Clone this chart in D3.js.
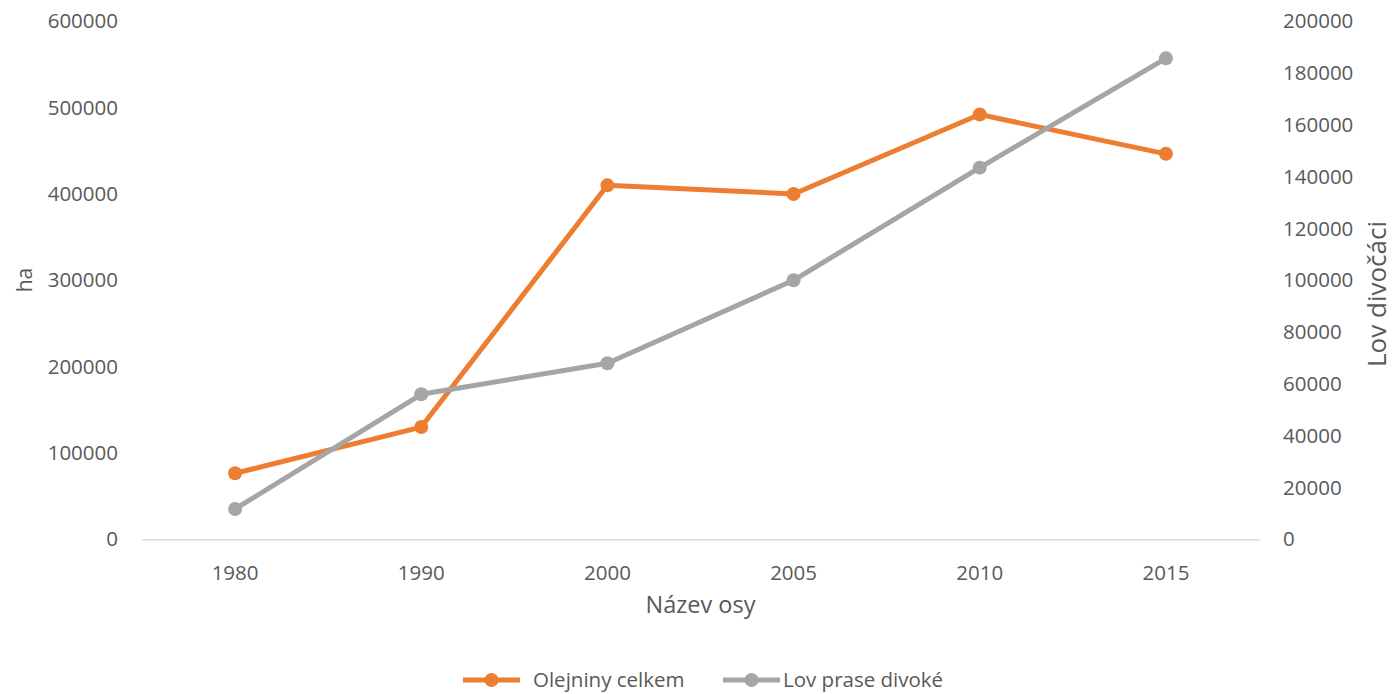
<!DOCTYPE html>
<html>
<head>
<meta charset="utf-8">
<title>Olejniny a lov prase divoké</title>
<script src="https://cdn.jsdelivr.net/npm/d3@7"></script>
<style>
  body { margin: 0; background: #fff; }
  text { font-family: "Open Sans", sans-serif; fill: #595959; }
</style>
</head>
<body>
<svg width="1395" height="694"></svg>
<script>
  var years = ['1980', '1990', '2000', '2005', '2010', '2015'];
  var olejniny = [76500, 130000, 410000, 400000, 492000, 446500];
  var lov = [11700, 56000, 68000, 100000, 143500, 185700];
  var leftTicks = [0, 100000, 200000, 300000, 400000, 500000, 600000];
  var rightTicks = [0, 20000, 40000, 60000, 80000, 100000, 120000, 140000, 160000, 180000, 200000];

  var svg = d3.select('svg');
  var plotLeft = 142, plotRight = 1259, plotTop = 21.3, plotBottom = 539.3;

  var x = d3.scaleBand().domain(years).range([plotLeft, plotRight]);
  var yL = d3.scaleLinear().domain([0, 600000]).range([plotBottom, plotTop]);
  var yR = d3.scaleLinear().domain([0, 200000]).range([plotBottom, plotTop]);

  // axes
  var gx = svg.append('g')
    .attr('transform', 'translate(0,' + plotBottom + ')')
    .call(d3.axisBottom(x).tickSize(0).tickPadding(26));
  gx.select('.domain').attr('stroke', '#d9d9d9').attr('stroke-width', 1.5);

  var gl = svg.append('g')
    .attr('transform', 'translate(' + plotLeft + ',0)')
    .call(d3.axisLeft(yL).tickValues(leftTicks).tickFormat(d3.format('d')).tickSize(0).tickPadding(24));
  gl.select('.domain').remove();

  var gr = svg.append('g')
    .attr('transform', 'translate(' + plotRight + ',0)')
    .call(d3.axisRight(yR).tickValues(rightTicks).tickFormat(d3.format('d')).tickSize(0).tickPadding(24));
  gr.select('.domain').remove();

  svg.selectAll('.tick text')
    .style('font-family', '"Open Sans", sans-serif')
    .style('font-size', '20.5px')
    .attr('fill', '#595959');

  // axis titles
  svg.append('text')
    .attr('x', (plotLeft + plotRight) / 2).attr('y', 613)
    .attr('text-anchor', 'middle')
    .style('font-size', '23.5px')
    .text('Název osy');

  svg.append('text')
    .attr('transform', 'translate(32,280) rotate(-90)')
    .attr('text-anchor', 'middle')
    .style('font-size', '21px')
    .text('ha');

  svg.append('text')
    .attr('transform', 'translate(1386,294) rotate(-90)')
    .attr('text-anchor', 'middle')
    .style('font-size', '26px')
    .text('Lov divočáci');

  // series
  var series = [
    { name: 'Olejniny celkem', values: olejniny, y: yL, color: '#ed7d31' },
    { name: 'Lov prase divoké', values: lov, y: yR, color: '#a5a5a5' }
  ];

  series.forEach(function(s) {
    var line = d3.line()
      .x(function(d, i) { return x(years[i]) + x.bandwidth() / 2; })
      .y(function(d) { return s.y(d); });

    svg.append('path')
      .datum(s.values)
      .attr('fill', 'none')
      .attr('stroke', s.color)
      .attr('stroke-width', 5)
      .attr('stroke-linejoin', 'round')
      .attr('d', line);

    svg.append('g')
      .selectAll('circle')
      .data(s.values)
      .enter()
      .append('circle')
      .attr('cx', function(d, i) { return x(years[i]) + x.bandwidth() / 2; })
      .attr('cy', function(d) { return s.y(d); })
      .attr('r', 7)
      .attr('fill', s.color);
  });

  // legend
  var legendX = [463, 723];
  var textX = [533, 783];
  var legend = svg.append('g').attr('transform', 'translate(0,680)');
  series.forEach(function(s, i) {
    legend.append('line')
      .attr('x1', legendX[i]).attr('x2', legendX[i] + 57)
      .attr('stroke', s.color).attr('stroke-width', 5);
    legend.append('circle')
      .attr('cx', legendX[i] + 28.5).attr('r', 7).attr('fill', s.color);
    legend.append('text')
      .attr('x', textX[i]).attr('dy', '0.35em')
      .style('font-size', '20.5px')
      .text(s.name);
  });
</script>
</body>
</html>
